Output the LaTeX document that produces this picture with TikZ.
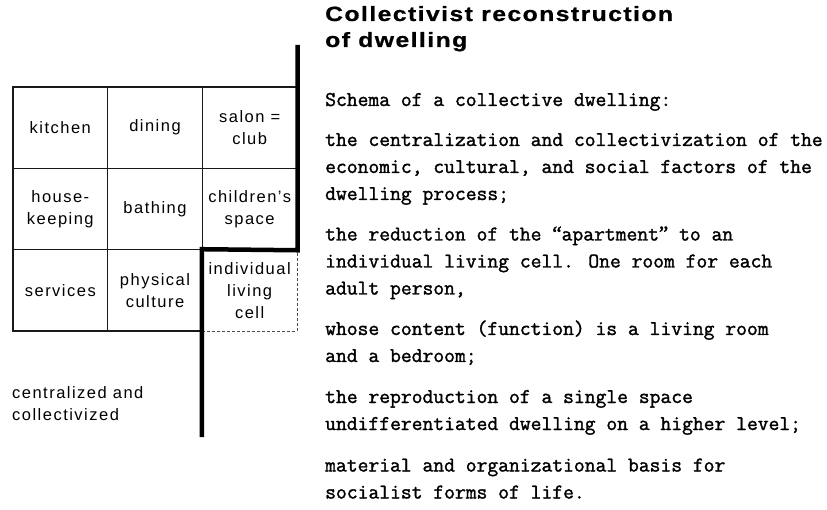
\documentclass[tikz,border=0pt]{standalone}
\usepackage{fontspec}
\setmainfont{Liberation Sans}
\newfontfamily\labelfont[LetterSpace=9]{Liberation Sans}
\newfontfamily\titlefont[FakeStretch=1.2,LetterSpace=7,FakeBold=0.8]{Liberation Sans}
\newfontfamily\bodyfont[FakeBold=1.5]{Latin Modern Mono}
\newfontfamily\quotefont[FakeBold=1.5]{Liberation Serif}
\newcommand{\oq}{{\quotefont“}}
\newcommand{\cq}{{\quotefont”}}
\tikzset{
  cell/.style={draw=black!90, line width=1.2pt, minimum width=94.67pt, minimum height=81.33pt,
    inner sep=0pt, align=center, font=\labelfont\fontsize{16.5}{22}\selectfont},
  dashcell/.style={cell, draw=black!70, dash pattern=on 3pt off 2pt, line width=0.9pt},
  wall/.style={line width=4.5pt, line join=miter, line cap=butt},
  body/.style={anchor=base west, inner sep=0pt, align=left, font=\bodyfont\fontsize{21}{27}\selectfont},
  ttl/.style={anchor=base west, inner sep=0pt, align=left, font=\titlefont\bfseries\fontsize{20.6}{26}\selectfont},
  note/.style={anchor=base west, inner sep=0pt, align=left, font=\labelfont\fontsize{16.5}{22}\selectfont}
}
\begin{document}
\begin{tikzpicture}[x=1pt, y=-1pt]
\useasboundingbox (0,0) rectangle (827,510);
% grid of rooms
\node[cell] (kitchen)  at (60.33,127.67) {kitchen};
\node[cell] (dining)   at (155,127.67) {dining};
\node[cell] (salon)    at (249.67,127.67) {salon =\\club};
\node[cell] (house)    at (60.33,209) {house-\\keeping};
\node[cell] (bathing)  at (155,209) {bathing};
\node[cell] (children) at (249.67,209) {children’s\\space};
\node[cell] (services) at (60.33,290.33) {services};
\node[cell] (physical) at (155,290.33) {physical\\culture};
\node[dashcell] (cellind) at (249.67,290.33) {individual\\living\\cell};
% walls
\coordinate (wtop) at (salon.north east |- 0,45);
\coordinate (wbot) at (cellind.north west |- 0,437);
\draw[wall] (wtop) -- (children.south east) -- (cellind.north west) -- (wbot);
% caption under grid (anchor at baseline of last line)
\node[note] (cc) at (12,420) {centralized and\\collectivized};
% title
\node[ttl] (title) at (325,47) {Collectivist reconstruction\\of dwelling};
% body text (anchor at baseline of last line)
\node[body] (p0) at (325,106) {Schema of a collective dwelling:};
\node[body] (p1) at (325,200) {the centralization and collectivization of the\\economic, cultural, and social factors of the\\dwelling process;};
\node[body] (p2) at (325,294.5) {the reduction of the \oq apartment\cq{} to an\\individual living cell. One room for each\\adult person,};
\node[body] (p3) at (325,362) {whose content (function) is a living room\\and a bedroom;};
\node[body] (p4) at (325,430) {the reproduction of a single space\\undifferentiated dwelling on a higher level;};
\node[body] (p5) at (325,498.5) {material and organizational basis for\\socialist forms of life.};
\end{tikzpicture}
\end{document}
